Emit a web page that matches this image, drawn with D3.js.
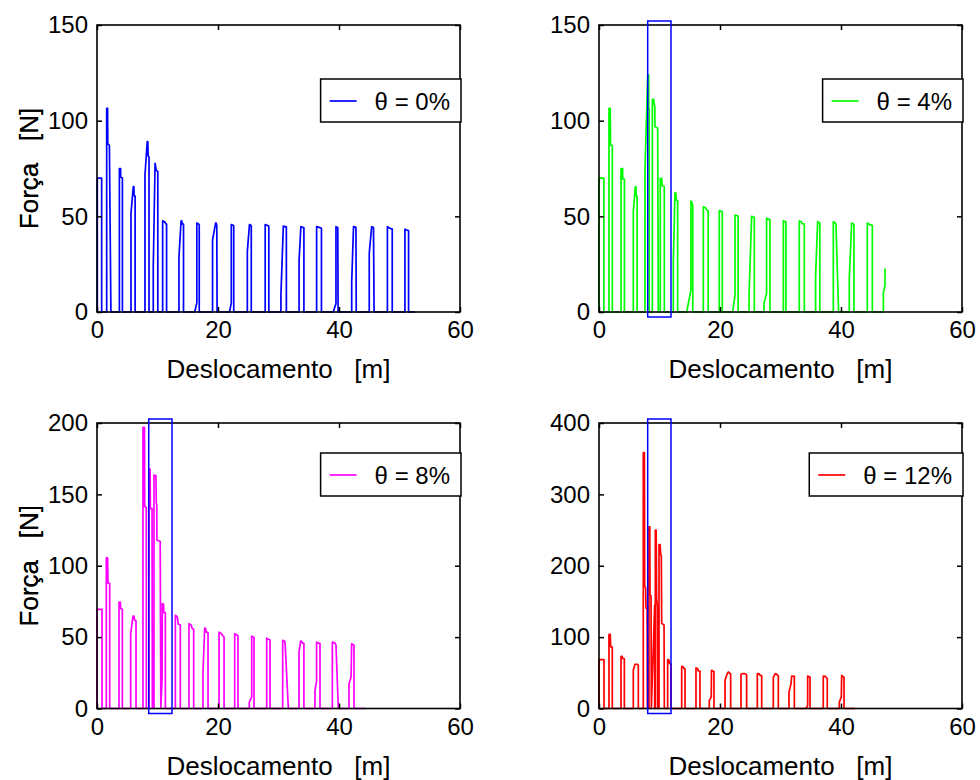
<!DOCTYPE html>
<html>
<head>
<meta charset="utf-8">
<script src="https://cdn.jsdelivr.net/npm/d3@7"></script>
<style>
  body { margin: 0; background: #fff; }
  svg { display: block; font-family: "Liberation Sans", Arial, sans-serif; }
  text { white-space: pre; }
</style>
</head>
<body>
<div id="grafico"></div>
<script>
// valores: [deslocamento m, força N]
var serie0 = [
  [0,0],[0.05,0],[0.05,70],[0.77,70],[0.77,0],
  [1.6,0],[1.6,106.5],[1.75,106.5],[1.78,88],[2.05,87],[2.3,0],
  [3.7,0],[3.7,75],[3.9,75],[3.92,70.4],[4.2,70],[4.2,0],
  [5.62,0],[5.62,51.6],[6.0,65.5],[6.1,65.5],[6.12,61],[6.3,60.5],[6.3,0],
  [7.93,0],[7.93,71.6],[8.3,89],[8.4,89],[8.45,81.5],[8.6,81],[8.6,0],
  [9.3,0],[9.3,23.7],[9.6,77.7],[9.8,74],[10.05,73.5],[10.05,0],
  [10.85,0],[10.85,47.7],[11.2,47],[11.4,46],[11.5,46],[11.5,0],
  [13.55,0],[13.55,29],[13.9,47.7],[14.0,47.7],[14.1,46],[14.3,46],[14.3,0],
  [16.15,0],[16.5,4.8],[16.5,46.5],[16.8,46],[16.9,45.5],[16.9,0],
  [19.1,0],[19.1,37.6],[19.6,46.5],[19.7,46.5],[19.8,45],[19.85,0],
  [21.9,0],[22.2,4.8],[22.2,45.7],[22.5,45.3],[22.6,45],[22.6,0],
  [24.85,0],[24.85,31.7],[25.2,45.7],[25.3,45.7],[25.5,44.9],[25.5,0],
  [27.8,0],[27.8,45.7],[28.1,45.3],[28.4,44.8],[28.4,0],
  [30.4,0],[30.4,9],[30.8,44.9],[31.2,44.5],[31.3,44.5],[31.3,0],
  [33.4,0],[33.4,27],[33.7,44.6],[34.05,44.2],[34.2,44],[34.2,0],
  [36.3,0],[36.3,44.6],[36.7,44.2],[37.1,43.8],[37.1,0],
  [39.05,0],[39.5,4.5],[39.5,44.6],[39.8,44.2],[39.85,0],
  [42.1,0],[42.1,15.6],[42.4,44.6],[42.8,44.2],[42.85,0],
  [45.0,0],[45.0,30.7],[45.4,44.6],[45.7,44.2],[45.8,0],
  [48.0,0],[48.0,44.6],[48.4,43.8],[48.8,43.3],[48.8,0],
  [50.9,0],[50.9,43.3],[51.35,42.6],[51.5,42.5],[51.5,0],
  [52.6,0]
];

var serie4 = [
  [0,0],[0,70],[0.8,70],[0.8,0],
  [1.65,0],[1.65,106.5],[1.85,106.5],[1.9,87.3],[2.2,87],[2.2,0],
  [3.64,0],[3.64,75],[3.9,75],[3.92,69.5],[4.2,69.5],[4.2,0],
  [5.67,0],[5.67,52.4],[6.0,65.5],[6.1,65.5],[6.15,60.6],[6.3,60.5],[6.3,0],
  [7.6,0],[7.6,74],[8.05,124],[8.2,124],[8.22,106],[8.3,106],[8.3,0],
  [8.82,0],[8.82,111.2],[9.05,111],[9.15,108],[9.22,107.5],[9.25,96.9],[9.7,96],[9.8,0],
  [10.13,0],[10.13,69.9],[10.35,69.9],[10.45,66],[10.8,65.5],[10.8,0],
  [12.28,0],[12.28,25.4],[12.56,62.4],[12.7,62],[12.78,58.5],[13.0,58.3],[13.0,0],
  [14.5,0],[15.2,11.7],[15.2,58],[15.35,57.5],[15.42,56],[15.5,55.8],[15.5,0],
  [17.24,0],[17.24,55],[17.6,54.5],[17.7,54],[18.05,52.6],[18.05,0],
  [19.88,0],[19.88,53],[20.2,52.6],[20.38,52.4],[20.38,0],
  [22.1,0],[22.48,9],[22.48,50.7],[22.85,50.3],[23.0,50],[23.0,0],
  [24.8,0],[24.8,9],[25.23,50],[25.5,49.6],[25.67,49.5],[25.67,0],
  [27.27,0],[27.27,4.5],[27.7,9.8],[27.7,49],[27.95,48.5],[28.26,48.3],[28.26,0],
  [30.47,0],[30.47,47.7],[30.8,47.2],[30.9,47],[30.9,0],
  [33.1,0],[33.1,47.6],[33.45,47.2],[33.55,46.2],[33.94,46],[33.94,0],
  [35.8,0],[35.8,18.5],[36.14,47.2],[36.4,46.7],[36.5,46.5],[36.5,0],
  [38.73,0],[38.73,47.2],[39.0,46.7],[39.17,46],[39.6,0],
  [41.37,0],[41.37,17.6],[41.76,46.5],[42.03,46],[42.14,45.8],[42.14,0],
  [44.35,0],[44.35,46.5],[44.68,45.8],[45.0,45.4],[45.18,45.3],[45.18,0],
  [47.0,0],[47.0,10],[47.27,14],[47.27,22.8]
];

var serie8 = [
  [0,0],[0,69.5],[0.83,69.5],[0.83,0],
  [1.54,0],[1.54,105.5],[1.75,105.5],[1.82,88],[2.1,87.5],[2.1,0],
  [3.64,0],[3.64,74.6],[3.85,74.6],[3.91,70],[4.19,69.5],[4.19,0],
  [5.57,0],[5.57,52.4],[5.95,64.8],[6.1,64.8],[6.23,61.8],[6.45,61.5],[6.45,0],
  [7.6,0],[7.6,197],[7.85,197],[7.88,141.3],[8.15,141],[8.15,0],
  [8.6,0],[8.6,167.7],[8.78,167.7],[8.82,140],[9.1,140],[9.15,0],
  [9.42,0],[9.42,163.5],[9.75,163],[9.8,143.6],[9.88,143],[9.9,118],[10.45,117],[10.55,0],
  [10.75,20],[10.8,73.5],[11.0,73],[11.05,67.2],[11.3,67],[11.3,0],
  [12.95,0],[12.95,65.3],[13.2,64.5],[13.3,63.5],[13.45,59],[13.77,58.7],[13.77,0],
  [15.2,0],[15.2,59.4],[15.5,58.7],[15.6,58],[15.75,55.9],[15.98,55.6],[15.98,0],
  [17.52,0],[17.52,25.5],[17.8,56.4],[17.95,56],[18.07,53.5],[18.35,53.2],[18.35,0],
  [20.17,0],[20.17,53.5],[20.55,52.4],[20.8,51],[21.0,50],[21.0,0],
  [22.76,0],[22.76,52.4],[23.1,51.5],[23.3,51],[23.3,0],
  [25.17,0],[25.17,4.4],[25.57,7.9],[25.57,50.7],[25.85,50],[25.95,49.8],[25.95,0],
  [28.05,0],[28.05,49.3],[28.49,48.2],[28.6,48],[28.6,0],
  [30.69,0],[30.69,47.7],[30.9,47.4],[31.08,46.5],[31.63,0],
  [33.39,0],[33.39,39.5],[33.66,47.2],[33.85,47],[33.99,45.8],[34.2,45.6],[34.2,0],
  [36.03,0],[36.03,12.6],[36.3,19.6],[36.3,46.5],[36.58,45.8],[36.86,45.5],[36.86,0],
  [38.9,0],[38.9,46.5],[39.34,45.8],[39.5,44.2],[39.89,0],
  [41.65,0],[41.65,17.3],[42.0,22],[42.09,45.4],[42.37,44.7],[42.48,44.5],[42.48,0],
  [44.3,0]
];

var serie12 = [
  [0,0],[0,68.6],[0.83,68.6],[0.83,0],
  [1.65,0],[1.65,104],[1.85,104],[1.93,86.4],[2.2,86],[2.2,0],
  [3.64,0],[3.64,73],[3.85,73],[3.91,70],[4.19,69.5],[4.19,0],
  [5.67,0],[5.67,53.5],[5.95,62],[6.39,62],[6.5,60],[6.5,0],
  [7.32,0],[7.32,358.7],[7.5,358.7],[7.55,170.9],[7.7,170],[7.77,140.4],[7.95,140],[8.0,0],
  [8.26,0],[8.26,254.5],[8.4,254.5],[8.43,159],[8.6,158],[8.65,0],
  [9.2,145],[9.2,0],[9.31,0],[9.31,249.8],[9.45,249.8],[9.53,154.5],[9.65,142.7],[9.7,0],
  [9.92,0],[9.92,229.6],[10.1,229.6],[10.2,215.5],[10.3,214],[10.36,119.3],[10.75,117],[10.8,0],
  [11.35,0],[11.35,68.6],[11.55,68],[11.68,63],[11.9,62],[11.9,0],
  [13.67,0],[13.67,59.2],[13.95,58],[14.05,55.9],[14.22,55.5],[14.22,0],
  [16.03,0],[16.03,56.8],[16.3,56],[16.42,52.6],[16.69,52.3],[16.69,0],
  [18.23,0],[18.23,11.3],[18.55,15.9],[18.6,53.5],[18.9,52.1],[19.0,51.8],[19.0,0],
  [20.83,0],[20.83,39.4],[21.2,49],[21.38,51.2],[21.65,48.8],[21.76,48.5],[21.76,0],
  [23.47,0],[23.47,47.9],[23.7,48.8],[24.1,48.8],[24.3,47.9],[24.4,47.5],[24.4,0],
  [26.17,0],[26.17,48.8],[26.5,48.5],[26.61,46.5],[26.89,46.2],[26.89,0],
  [28.81,0],[28.81,43.2],[29.1,48.5],[29.25,48.8],[29.53,46.5],[29.64,46.2],[29.64,0],
  [31.4,0],[31.4,23],[31.75,35],[31.85,45.5],[32.23,45.2],[32.29,45],[32.29,0],
  [34.21,0],[34.49,4.2],[34.49,45.5],[34.77,44.1],[34.88,44],[34.88,0],
  [37.07,0],[37.07,45.5],[37.4,45],[37.51,44.1],[37.73,41.8],[37.73,0],
  [39.72,0],[39.72,8.9],[40.05,15.9],[40.11,46.5],[40.39,44.1],[40.5,43.8],[40.5,0],
  [42.3,0]
];

var xTicks = [0, 20, 40, 60];
var yTicks150 = [0, 50, 100, 150];
var yTicks200 = [0, 50, 100, 150, 200];
var yTicks400 = [0, 100, 200, 300, 400];
var legendas = ["\u03b8 = 0%", "\u03b8 = 4%", "\u03b8 = 8%", "\u03b8 = 12%"];
// janela de deslocamento destacada (m)
var janelas = [null, [8.05, 11.9], [8.55, 12.4], [8.05, 11.9]];

var paineis = [
  { dados: serie0,  ticks: yTicks150, cor: "#0000ff", x: 97,  y: 25,  h: 287, leg: 54 },
  { dados: serie4,  ticks: yTicks150, cor: "#00ff00", x: 599, y: 25,  h: 287, leg: 54 },
  { dados: serie8,  ticks: yTicks200, cor: "#ff00ff", x: 97,  y: 423, h: 285.5, leg: 30 },
  { dados: serie12, ticks: yTicks400, cor: "#ff0000", x: 599, y: 423, h: 285.5, leg: 30 }
];

var w = 363;

var svg = d3.select('#grafico')
  .append('svg')
  .attr("width", 980)
  .attr("height", 780);

svg.append("rect").attr("width", 980).attr("height", 780).attr("fill", "#fff");

paineis.forEach(function (p, i) {
  var g = svg.append("g").attr("transform", "translate(" + p.x + "," + p.y + ")");

  var x = d3.scaleLinear().domain([0, 60]).range([0, w]);
  var y = d3.scaleLinear().domain([0, d3.max(p.ticks)]).range([p.h, 0]);

  var linha = d3.line()
    .x(function (d) { return x(d[0]); })
    .y(function (d) { return y(d[1]); });

  g.append("path")
    .datum(p.dados)
    .attr("d", linha)
    .attr("fill", "none")
    .attr("stroke", p.cor)
    .attr("stroke-width", 1.7)
    .attr("stroke-linejoin", "round");

  // eixos com ticks para dentro nos quatro lados
  var eixos = [
    [d3.axisBottom(x).tickValues(xTicks), "translate(0," + p.h + ")", true],
    [d3.axisTop(x).tickValues(xTicks), null, false],
    [d3.axisLeft(y).tickValues(p.ticks), null, true],
    [d3.axisRight(y).tickValues(p.ticks), "translate(" + w + ",0)", false]
  ];
  eixos.forEach(function (e) {
    var a = g.append("g")
      .call(e[0].tickSizeInner(-5).tickSizeOuter(0).tickPadding(e[2] ? 9 : 0))
      .attr("font-family", null)
      .attr("font-size", 24);
    if (e[1]) a.attr("transform", e[1]);
    a.select(".domain").remove();
    a.selectAll("line").attr("stroke", "#000").attr("stroke-width", 1.5);
    if (!e[2]) a.selectAll("text").remove();
    a.selectAll("text").attr("fill", "#000");
  });

  g.append("rect")
    .attr("width", w)
    .attr("height", p.h)
    .attr("fill", "none")
    .attr("stroke", "#000")
    .attr("stroke-width", 1.6);

  if (janelas[i]) {
    g.append("rect")
      .attr("x", x(janelas[i][0]))
      .attr("y", y.range()[1] - 4)
      .attr("width", x(janelas[i][1]) - x(janelas[i][0]))
      .attr("height", p.h + 9)
      .attr("fill", "none")
      .attr("stroke", "#0000ff")
      .attr("stroke-width", 1.5);
  }

  // legenda
  var leg = g.append("g");
  var caixa = leg.append("rect")
    .attr("fill", "#fff")
    .attr("stroke", "#000")
    .attr("stroke-width", 1.5);
  var txt = leg.append("text")
    .attr("font-size", 24)
    .attr("fill", "#000")
    .text(legendas[i]);
  var tw = txt.node().getComputedTextLength();
  var bw = 9 + 27 + 18 + tw + 11;
  var bx = w - bw + 1;
  caixa.attr("x", bx).attr("y", p.leg).attr("width", bw).attr("height", 43);
  leg.append("line")
    .attr("x1", bx + 9).attr("x2", bx + 36)
    .attr("y1", p.leg + 22).attr("y2", p.leg + 22)
    .attr("stroke", p.cor).attr("stroke-width", 1.7);
  txt.attr("x", bx + 54).attr("y", p.leg + 31);

  g.append("text")
    .attr("x", w / 2)
    .attr("y", p.h + 66)
    .attr("text-anchor", "middle")
    .attr("font-size", 26)
    .text("Deslocamento   [m]");

  g.append("text")
    .attr("transform", "translate(" + (38 - p.x) + "," + (p.h / 2) + ") rotate(-90)")
    .attr("text-anchor", "middle")
    .attr("font-size", 26)
    .text("Força   [N]");
});
</script>
</body>
</html>
